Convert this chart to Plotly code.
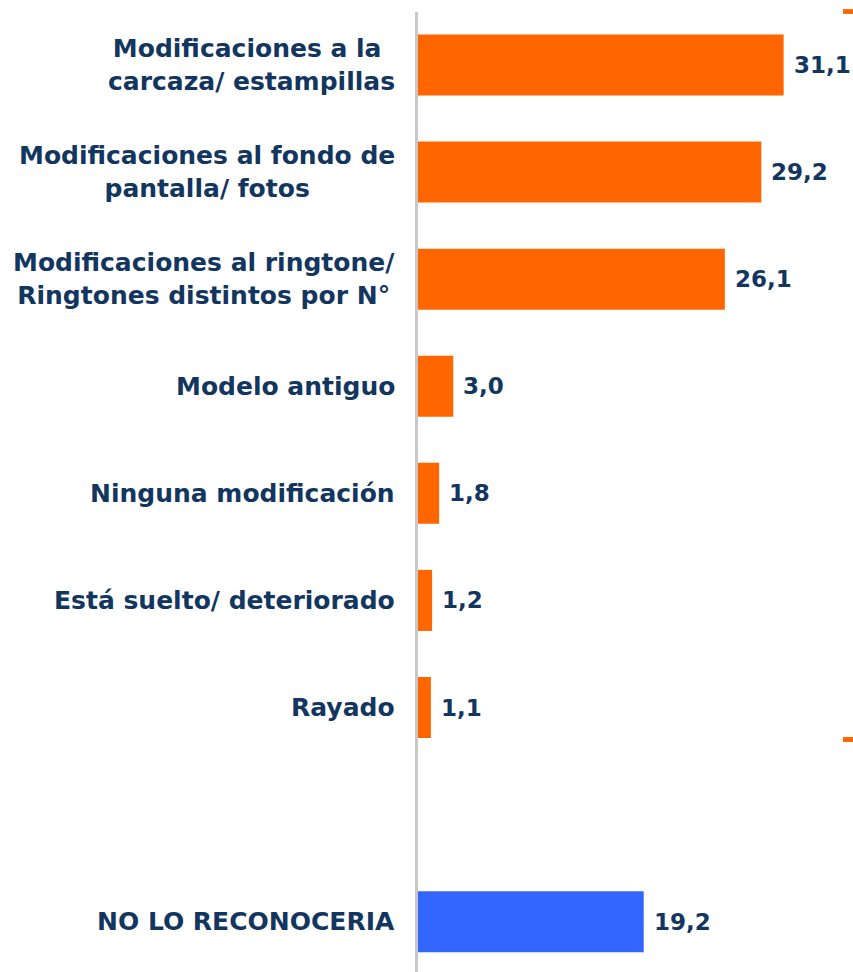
import plotly.graph_objects as go


labels = [
    "Modificaciones a la <br>carcaza/ estampillas",
    "Modificaciones al fondo de<br>pantalla/ fotos",
    "Modificaciones al ringtone/<br>Ringtones distintos por N°",
    "Modelo antiguo",
    "Ninguna modificación",
    "Está suelto/ deteriorado",
    "Rayado",
]
values = [31.1, 29.2, 26.1, 3.0, 1.8, 1.2, 1.1]

spacer = " "
other_label = "NO LO RECONOCERIA"
other_value = 19.2

order = labels + [spacer, other_label]

navy = "#12365F"
orange = "#FF6600"
blue = "#3366FF"


def fmt(v):
    return f"{v:.1f}".replace(".", ",")


fig = go.Figure()

fig.add_trace(
    go.Bar(
        y=labels,
        x=values,
        orientation="h",
        marker=dict(color=orange, line=dict(width=0)),
        width=0.57,
        showlegend=False,
    )
)

fig.add_trace(
    go.Bar(
        y=[spacer],
        x=[0],
        orientation="h",
        marker=dict(color="rgba(0,0,0,0)", line=dict(width=0)),
        showlegend=False,
        hoverinfo="skip",
    )
)

fig.add_trace(
    go.Bar(
        y=[other_label],
        x=[other_value],
        orientation="h",
        marker=dict(color=blue, line=dict(width=0)),
        width=0.57,
        showlegend=False,
    )
)

# value labels and category labels
for lab, v in zip(labels + [other_label], values + [other_value]):
    fig.add_annotation(
        x=v, y=lab, xref="x", yref="y",
        text=fmt(v), showarrow=False,
        xanchor="left", xshift=8,
        font=dict(family="DejaVu Sans", size=23, color=navy, weight="bold"),
    )
    fig.add_annotation(
        x=0, y=lab, xref="x", yref="y",
        text=lab, showarrow=False,
        xanchor="right", align="center", xshift=-21,
        font=dict(family="DejaVu Sans", size=25, color=navy, weight="bold"),
    )

# little orange marks at the right edge
fig.add_shape(type="rect", xref="paper", yref="paper",
              x0=0.977, x1=1.0, y0=0.998, y1=1.003,
              fillcolor=orange, line=dict(width=0))
fig.add_shape(type="rect", xref="paper", yref="paper",
              x0=0.977, x1=1.0, y0=0.2396, y1=0.2448,
              fillcolor=orange, line=dict(width=0))

fig.update_layout(
    width=853,
    height=972,
    margin=dict(l=418, r=0, t=12, b=0),
    plot_bgcolor="white",
    paper_bgcolor="white",
    bargap=0.43,
    xaxis=dict(range=[0, 37], visible=False),
    yaxis=dict(
        type="category",
        categoryorder="array",
        categoryarray=order,
        range=[8.47, -0.495],
        showticklabels=False,
        showgrid=False,
        zeroline=False,
        showline=True,
        linecolor="#C8C8C8",
        linewidth=3,
        ticks="",
    ),
)

fig.write_html(
    "out.html",
    config={"displayModeBar": False},
    post_script="document.body.style.margin='0';document.body.style.overflow='hidden';",
)
